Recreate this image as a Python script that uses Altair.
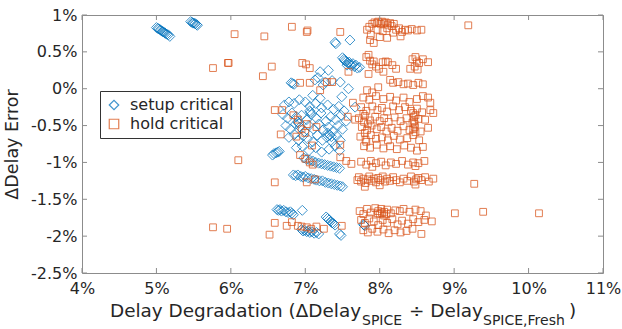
import altair as alt
import pandas as pd

# Percent values (x: delay degradation, y: delay error)
setup_points = [
    (5.00, 0.83), (5.02, 0.82), (5.03, 0.81), (5.05, 0.80), (5.06, 0.79), (5.08, 0.78),
    (5.09, 0.77), (5.11, 0.76), (5.12, 0.75), (5.14, 0.74), (5.16, 0.73), (5.18, 0.71),
    (5.46, 0.91), (5.48, 0.90), (5.49, 0.89), (5.51, 0.89), (5.52, 0.88), (5.54, 0.87), (5.55, 0.86),
    (7.40, 0.63), (7.41, 0.61), (7.60, 0.66),
    (7.50, 0.42), (7.52, 0.40), (7.53, 0.38), (7.55, 0.37), (7.57, 0.35), (7.59, 0.36),
    (7.60, 0.33), (7.62, 0.31), (7.64, 0.34), (7.66, 0.30), (7.68, 0.32), (7.70, 0.28),
    (7.73, 0.29), (7.56, 0.32),
    (7.31, 0.25), (7.20, 0.23), (7.47, 0.09), (6.81, 0.08), (6.83, 0.07), (6.85, 0.06),
    (7.13, 0.12), (7.24, 0.05), (7.58, 0.00), (7.17, 0.15), (7.27, 0.09), (7.36, 0.11),
    (7.10, -0.09), (7.20, -0.13), (7.49, -0.11), (7.67, -0.25),
    (6.72, -0.22), (6.78, -0.18), (6.85, -0.20), (6.92, -0.15), (7.00, -0.18), (7.06, -0.24),
    (7.14, -0.20), (7.22, -0.26), (7.30, -0.22), (7.38, -0.28), (7.45, -0.24), (7.52, -0.30),
    (6.70, -0.35), (6.76, -0.40), (6.82, -0.33), (6.88, -0.38), (6.95, -0.36), (7.02, -0.42),
    (7.08, -0.35), (7.15, -0.40), (7.21, -0.33), (7.28, -0.44), (7.34, -0.38), (7.41, -0.42),
    (7.48, -0.36), (7.55, -0.44),
    (6.74, -0.50), (6.80, -0.55), (6.87, -0.48), (6.93, -0.52), (6.99, -0.58), (7.05, -0.50),
    (7.11, -0.55), (7.18, -0.48), (7.24, -0.56), (7.31, -0.52), (7.37, -0.58), (7.44, -0.50),
    (7.50, -0.55),
    (6.78, -0.66), (6.85, -0.62), (6.91, -0.70), (6.97, -0.64), (7.03, -0.68), (7.10, -0.72),
    (7.16, -0.63), (7.23, -0.70), (7.29, -0.66), (7.36, -0.72), (7.42, -0.64), (7.47, -0.70),
    (6.88, -0.80), (6.96, -0.78), (7.05, -0.84), (7.14, -0.80), (7.22, -0.86), (7.32, -0.82),
    (7.40, -0.78), (7.46, -0.84),
    (6.90, -0.45), (6.91, -0.47), (7.30, -0.60), (7.33, -0.63), (7.35, -0.65), (7.06, -0.30),
    (7.07, -0.32),
    (6.56, -0.90), (6.58, -0.88), (6.61, -0.87), (6.63, -0.86), (6.65, -0.85),
    (6.98, -0.94), (7.02, -0.96), (7.06, -0.97), (7.10, -0.98), (7.14, -1.00), (7.18, -1.01),
    (7.22, -1.02), (7.26, -1.03), (7.30, -1.04), (7.34, -1.05), (7.38, -1.06), (7.42, -1.07),
    (7.46, -1.08),
    (6.84, -1.17), (6.87, -1.18), (6.90, -1.17), (6.94, -1.19), (6.97, -1.20), (7.00, -1.19),
    (7.04, -1.21), (7.08, -1.22), (7.12, -1.23), (7.15, -1.24), (7.19, -1.25), (7.23, -1.25),
    (7.27, -1.27), (7.31, -1.28), (7.35, -1.29), (7.39, -1.30), (7.43, -1.31), (7.47, -1.32),
    (7.50, -1.33),
    (6.62, -1.64), (6.64, -1.65), (6.66, -1.64), (6.68, -1.66), (6.71, -1.65), (6.74, -1.67),
    (6.77, -1.68), (6.80, -1.67), (6.82, -1.69), (6.84, -1.71), (6.96, -1.65),
    (6.95, -1.91), (6.97, -1.93), (6.99, -1.92), (7.02, -1.94), (7.04, -1.93), (7.06, -1.95),
    (7.09, -1.94), (7.12, -1.96), (7.15, -1.95), (7.18, -1.97),
    (7.28, -1.74), (7.30, -1.76), (7.32, -1.78), (7.34, -1.80), (7.36, -1.82), (7.38, -1.83),
    (7.40, -1.85), (7.46, -1.97), (7.48, -1.99),
    (7.78, -1.84), (7.79, -1.85), (7.80, -1.86),
]

hold_points = [
    (6.05, 0.74), (6.45, 0.71), (6.82, 0.84), (7.02, 0.77), (7.03, 0.79), (5.76, 0.28),
    (5.96, 0.35), (5.97, 0.35), (6.43, 0.17), (6.55, 0.30), (6.59, -0.29), (6.69, -0.29),
    (6.67, -0.62), (7.09, -0.77), (6.10, -0.97), (6.59, -1.27), (5.76, -1.88), (5.95, -1.90),
    (6.52, -1.98), (6.59, -1.82), (7.47, 0.77), (6.96, 0.35), (7.01, 0.33), (7.06, 0.28),
    (7.29, 0.09), (7.36, 0.09), (6.93, 0.08), (7.06, 0.08), (7.58, 0.23),
    (6.84, -0.36), (6.90, -0.42), (6.95, -0.55), (7.00, -0.60), (6.88, -0.65), (7.02, -0.48),
    (7.57, -0.38), (7.64, -0.19), (7.67, -0.42), (7.47, -0.76), (7.47, -0.93), (6.93, -0.90),
    (7.00, -0.95), (7.06, -1.00), (7.10, -1.03), (7.02, -1.27), (7.13, -1.23), (7.70, -1.24),
    (6.75, -1.86), (6.82, -1.81), (6.90, -1.86), (6.95, -1.87), (7.02, -1.88), (7.08, -1.90),
    (7.15, -1.87), (7.25, -1.90), (7.49, -1.86), (7.20, -0.02), (7.15, -0.52),
    (7.83, 0.80), (7.86, 0.84), (7.90, 0.88), (7.93, 0.90), (7.96, 0.89), (7.98, 0.91),
    (8.01, 0.88), (8.03, 0.91), (8.06, 0.89), (8.08, 0.90), (8.11, 0.87), (8.14, 0.89),
    (8.16, 0.85), (8.19, 0.88), (7.88, 0.73), (7.97, 0.80), (8.04, 0.78), (8.10, 0.82),
    (8.18, 0.76), (8.22, 0.80), (8.26, 0.82), (8.30, 0.77), (8.34, 0.80), (8.38, 0.79),
    (8.43, 0.81), (8.50, 0.79), (8.56, 0.80), (7.87, 0.66), (7.92, 0.62), (8.00, 0.70),
    (8.10, 0.69), (8.28, 0.71), (9.19, 0.86),
    (7.82, 0.43), (7.85, 0.46), (7.87, 0.38), (7.90, 0.33), (7.92, 0.37), (7.95, 0.30),
    (7.99, 0.27), (8.04, 0.36), (8.08, 0.37), (8.11, 0.36), (8.17, 0.32), (8.22, 0.27),
    (8.44, 0.40), (8.48, 0.43), (8.50, 0.37), (8.53, 0.35), (8.47, 0.30), (8.51, 0.26),
    (8.58, 0.40), (8.65, 0.36), (8.41, 0.27), (8.05, 0.23), (7.85, 0.20),
    (8.18, 0.08), (8.25, 0.09), (8.32, 0.06), (8.38, 0.07), (8.45, 0.05), (8.52, 0.08),
    (8.58, 0.06), (8.14, 0.12), (7.83, -0.02), (7.90, -0.05), (7.98, 0.02),
    (7.78, -0.12), (7.86, -0.15), (7.95, -0.10), (8.05, -0.14), (8.14, -0.11), (8.22, -0.16),
    (8.32, -0.12), (8.40, -0.18), (8.50, -0.14), (8.58, -0.10), (8.65, -0.12), (8.68, -0.19),
    (7.75, -0.25), (7.82, -0.30), (7.90, -0.24), (7.97, -0.29), (8.03, -0.26), (8.10, -0.31),
    (8.18, -0.24), (8.26, -0.29), (8.34, -0.25), (8.42, -0.30), (8.50, -0.27), (8.57, -0.32),
    (8.68, -0.29), (8.72, -0.33),
    (7.72, -0.40), (7.80, -0.37), (7.87, -0.43), (7.94, -0.38), (8.00, -0.44), (8.06, -0.40),
    (8.12, -0.45), (8.20, -0.39), (8.28, -0.44), (8.36, -0.40), (8.44, -0.46), (8.52, -0.41),
    (8.61, -0.42), (8.48, -0.36),
    (7.76, -0.52), (7.83, -0.56), (7.89, -0.50), (7.96, -0.55), (8.02, -0.52), (8.09, -0.58),
    (8.16, -0.53), (8.24, -0.57), (8.32, -0.51), (8.40, -0.56), (8.47, -0.52), (8.55, -0.58),
    (8.65, -0.53),
    (7.74, -0.65), (7.81, -0.69), (7.88, -0.63), (7.95, -0.68), (8.03, -0.66), (8.11, -0.70),
    (8.19, -0.64), (8.27, -0.69), (8.37, -0.67), (8.45, -0.63), (8.53, -0.70),
    (7.79, -0.78), (7.87, -0.80), (7.96, -0.76), (8.05, -0.81), (8.14, -0.78), (8.23, -0.82),
    (8.33, -0.77), (8.42, -0.80), (8.50, -0.84), (8.58, -0.79),
    (8.45, -0.33), (8.46, -0.38), (8.46, -0.44), (8.47, -0.48), (8.45, -0.55), (8.48, -0.59),
    (7.78, -0.34), (7.79, -0.45), (7.80, -0.60), (7.82, -0.72), (7.84, -0.48),
    (7.55, -0.98), (7.62, -1.02), (7.75, -0.99), (7.82, -1.03), (7.88, -0.98), (7.95, -1.01),
    (8.02, -0.99), (8.08, -1.04), (8.15, -1.00), (8.22, -1.02), (8.30, -0.98), (8.38, -1.03),
    (8.45, -1.00), (8.52, -1.01), (8.60, -0.98), (8.48, -1.05), (7.90, -1.06),
    (7.72, -1.20), (7.75, -1.26), (7.78, -1.22), (7.81, -1.28), (7.84, -1.23), (7.86, -1.19),
    (7.89, -1.25), (7.92, -1.22), (7.95, -1.27), (7.98, -1.21), (8.01, -1.24), (8.04, -1.19),
    (8.07, -1.26), (8.10, -1.22), (8.14, -1.25), (8.18, -1.20), (8.22, -1.24), (8.27, -1.27),
    (8.32, -1.22), (8.37, -1.25), (8.42, -1.19), (8.46, -1.26), (8.49, -1.23), (8.52, -1.21),
    (8.56, -1.24), (8.61, -1.20), (8.66, -1.26), (8.72, -1.22), (7.80, -1.33), (8.00, -1.31),
    (8.48, -1.30), (9.27, -1.29),
    (7.73, -1.66), (7.78, -1.70), (7.83, -1.63), (7.88, -1.68), (7.94, -1.62), (7.98, -1.66),
    (8.02, -1.63), (8.06, -1.67), (8.10, -1.64), (8.15, -1.69), (8.21, -1.65), (8.27, -1.66),
    (8.32, -1.63), (8.40, -1.67), (8.48, -1.64), (8.55, -1.66), (8.62, -1.72),
    (7.75, -1.78), (7.80, -1.82), (7.86, -1.76), (7.92, -1.80), (7.98, -1.85), (8.04, -1.78),
    (8.10, -1.82), (8.17, -1.77), (8.24, -1.84), (8.30, -1.79), (8.38, -1.83), (8.45, -1.77),
    (8.52, -1.81), (8.60, -1.78), (8.70, -1.80),
    (7.78, -1.92), (7.84, -1.95), (7.90, -1.90), (7.97, -1.94), (8.05, -1.91), (8.12, -1.96),
    (8.20, -1.92), (8.28, -1.95), (8.36, -1.93), (8.44, -1.90), (8.56, -1.97),
    (7.97, -1.69), (8.00, -1.70), (8.03, -1.68), (8.06, -1.72), (8.09, -1.70),
    (9.01, -1.69), (9.39, -1.67), (10.14, -1.69),
]

series_names = ["setup critical", "hold critical"]
series_colors = ["#0072BD", "#D95319"]
series_shapes = ["diamond", "square"]

x_ticks = [4, 5, 6, 7, 8, 9, 10, 11]
y_ticks = [-2.5, -2, -1.5, -1, -0.5, 0, 0.5, 1]

y_title = "\u0394Delay Error"
# x title pieces, normal text alternating with subscripts
x_title_parts = ["Delay Degradation (\u0394Delay", "SPICE", "\u00f7 Delay", "SPICE,Fresh", ")"]

W, H = 521, 258
FONT = "DejaVu Sans"
TXT = "#262626"
FRAME = "#8c8c8c"

rows = [{"x": x, "y": y, "series": series_names[0], "size": 100} for x, y in setup_points]
rows += [{"x": x, "y": y, "series": series_names[1], "size": 46} for x, y in hold_points]
df = pd.DataFrame(rows)

xs = alt.Scale(domain=[4, 11], nice=False, zero=False)
ys = alt.Scale(domain=[-2.5, 1], nice=False, zero=False)

# one axis definition per direction, shared by every layer so the merge keeps it
x_axis = alt.Axis(values=x_ticks, labelExpr="datum.value + '%'", title=None, tickSize=0,
                  labelPadding=7, labelOverlap=False, labelFlush=False, domain=False, grid=False)
y_axis = alt.Axis(values=y_ticks, labelExpr="datum.value + '%'", title=y_title, tickSize=0,
                  labelPadding=5, labelOverlap=False, labelFlush=False, titlePadding=9,
                  domain=False, grid=False)

points = alt.Chart(df).mark_point(filled=False, strokeWidth=1, opacity=0.75).encode(
    x=alt.X("x:Q", scale=xs, axis=x_axis),
    y=alt.Y("y:Q", scale=ys, axis=y_axis),
    color=alt.Color("series:N", scale=alt.Scale(domain=series_names, range=series_colors),
                    legend=alt.Legend(title=None, orient="none", legendX=18, legendY=76,
                                      strokeColor="#333333", fillColor="white", padding=6,
                                      labelFontSize=16, labelFont=FONT, labelColor=TXT,
                                      symbolStrokeWidth=1.2, symbolSize=90, rowPadding=3,
                                      labelOffset=8)),
    shape=alt.Shape("series:N", scale=alt.Scale(domain=series_names, range=series_shapes)),
    size=alt.Size("size:Q", scale=None, legend=None),
)

tk = 5
xt = pd.DataFrame({"v": x_ticks})
yt = pd.DataFrame({"v": y_ticks})
tick_x_bottom = alt.Chart(xt).mark_rule(color=FRAME).encode(
    x=alt.X("v:Q", scale=xs, axis=x_axis), y=alt.value(H), y2=alt.value(H - tk))
tick_x_top = alt.Chart(xt).mark_rule(color=FRAME).encode(
    x=alt.X("v:Q", scale=xs, axis=x_axis), y=alt.value(0), y2=alt.value(tk))
tick_y_left = alt.Chart(yt).mark_rule(color=FRAME).encode(
    y=alt.Y("v:Q", scale=ys, axis=y_axis), x=alt.value(0), x2=alt.value(tk))
tick_y_right = alt.Chart(yt).mark_rule(color=FRAME).encode(
    y=alt.Y("v:Q", scale=ys, axis=y_axis), x=alt.value(W), x2=alt.value(W - tk))


def title_piece(text, size, xpos, ypos):
    return alt.Chart(pd.DataFrame({"t": [text]})).mark_text(
        align="left", baseline="alphabetic", font=FONT, fontSize=size, color=TXT
    ).encode(x=alt.value(xpos), y=alt.value(ypos), text="t:N")


xt_layers = [
    title_piece(x_title_parts[0], 18.4, 28, 302),
    title_piece(x_title_parts[1], 14, 280, 310),
    title_piece(x_title_parts[2], 18.4, 327, 302),
    title_piece(x_title_parts[3], 14, 401, 310),
    title_piece(x_title_parts[4], 18.4, 487, 302),
]

chart = alt.layer(
    points, tick_x_bottom, tick_x_top, tick_y_left, tick_y_right, *xt_layers
).properties(
    width=W, height=H,
    background="white",
    autosize=alt.AutoSizeParams(type="none"),
    padding={"left": 82, "top": 15, "right": 19, "bottom": 56},
).configure_view(
    stroke=FRAME, strokeWidth=1
).configure_axis(
    labelFont=FONT, labelFontSize=16, labelColor=TXT, labelOverlap=False,
    titleFont=FONT, titleFontSize=17.5, titleColor=TXT, titleFontWeight="normal",
)

chart.save("out.html", embed_options={"renderer": "svg", "actions": False})
